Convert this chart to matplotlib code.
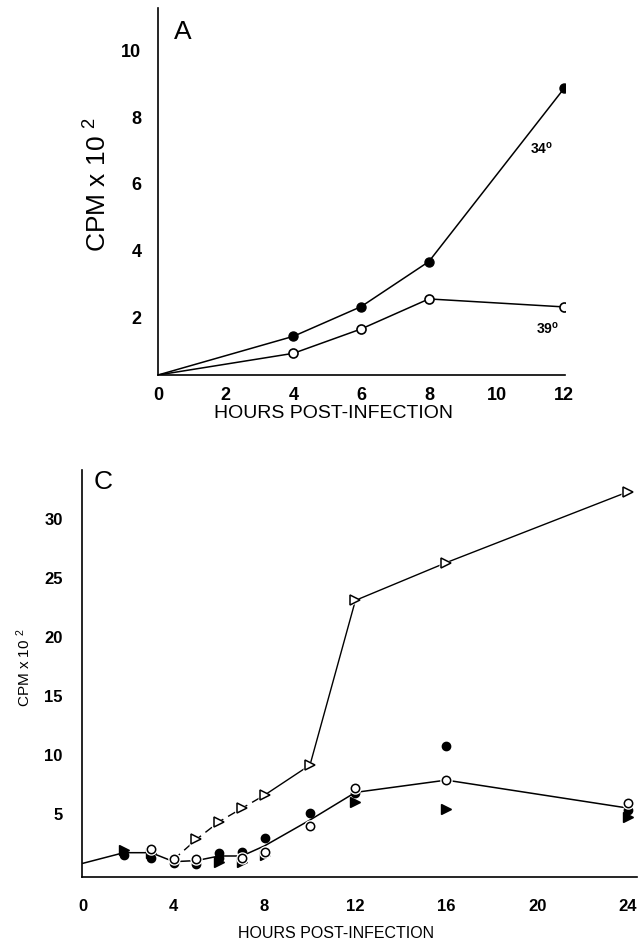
import numpy as np
import matplotlib
matplotlib.use("Agg")
import matplotlib.pyplot as plt

plt.rcParams['font.family'] = ['Liberation Sans', 'DejaVu Sans']
plt.rcParams['mathtext.default'] = 'regular'

# --- painel A ---
horas_a = [0, 4, 6, 8, 12]
cpm_34 = [0.27, 1.43, 2.32, 3.67, 8.87]
cpm_39 = [0.27, 0.92, 1.65, 2.55, 2.31]
ticks_a_x = [0, 2, 4, 6, 8, 10, 12]
ticks_a_y = [2, 4, 6, 8, 10]

# --- painel C ---
# linha continua (media dos circulos)
linha_x = [0, 1.8, 3, 4, 5, 6, 7, 8, 10, 12, 16, 24]
linha_y = [0.82, 1.72, 1.72, 0.96, 1.05, 1.44, 1.44, 2.3, 4.49, 6.83, 7.87, 5.5]
# triangulos abertos
tri_ab_x = [4, 5, 6, 7, 8, 10, 12, 16, 24]
tri_ab_y = [1.15, 2.85, 4.35, 5.48, 6.6, 9.15, 23.1, 26.3, 32.3]
# circulos abertos
circ_ab_x = [3, 4, 5, 7, 8, 10, 12, 16, 24]
circ_ab_y = [2.0, 1.16, 1.19, 1.24, 1.81, 3.98, 7.19, 7.87, 5.93]
# circulos cheios
circ_ch_x = [1.8, 3, 4, 5, 6, 6, 7, 8, 10, 12, 16, 24]
circ_ch_y = [1.53, 1.24, 0.82, 0.76, 1.67, 1.3, 1.81, 2.94, 5.11, 6.74, 10.76, 5.34]
# triangulos cheios
tri_ch_x = [1.8, 3, 6, 7, 8, 12, 16, 24]
tri_ch_y = [1.95, 1.7, 0.96, 0.96, 1.53, 6.04, 5.42, 4.72]
ticks_c_x = [0, 4, 8, 12, 16, 20, 24]
ticks_c_y = [5, 10, 15, 20, 25, 30]

W, H = 640, 944
fig = plt.figure(figsize=(W / 100, H / 100), dpi=100)


def caixa(esq, dir, topo, base):
    return [esq / W, 1 - base / H, (dir - esq) / W, (base - topo) / H]


# ----- Painel A -----
ax = fig.add_axes(caixa(158, 565, 8, 375))
ax.plot(horas_a, cpm_34, 'k-', lw=1.1, zorder=2)
ax.plot(horas_a[1:], cpm_34[1:], 'o', ms=6.5, mfc='k', mec='k', zorder=3)
ax.plot(horas_a, cpm_39, 'k-', lw=1.1, zorder=2)
ax.plot(horas_a[1:], cpm_39[1:], 'o', ms=6.5, mfc='white', mec='k', mew=1.2, zorder=3)
ax.set_xlim(0, 12.02)
ax.set_ylim(0.27, 11.27)
ax.set_xticks(ticks_a_x)
ax.set_yticks(ticks_a_y)
ax.tick_params(length=0, labelsize=13)
ax.tick_params(axis='x', pad=9)
ax.tick_params(axis='y', pad=12)
for lab in ax.get_xticklabels() + ax.get_yticklabels():
    lab.set_fontweight('bold')
for s in ['top', 'right']:
    ax.spines[s].set_visible(False)
for s in ['left', 'bottom']:
    ax.spines[s].set_linewidth(1.2)
ax.text(11.33, 7.05, '34$^o$', fontsize=10, fontweight='bold', ha='center', va='center')
ax.text(11.5, 1.65, '39$^o$', fontsize=10, fontweight='bold', ha='center', va='center')
ax.text(0.061, 0.935, 'A', transform=ax.transAxes, fontsize=19, ha='center', va='center')

fig.text(333 / W, 1 - 414 / H, 'HOURS POST-INFECTION', fontsize=14, ha='center', va='center')
fig.text(98 / W, 1 - 185 / H, 'CPM x 10 $^2$', fontsize=19, rotation=90, ha='center', va='center')

# ----- Painel C -----
axc = fig.add_axes(caixa(82, 637, 470, 877))
axc.plot(linha_x, linha_y, 'k-', lw=1.1, zorder=2)
# triangulos abertos: tracejado ate 8 h, continuo depois
axc.plot(tri_ab_x[:5], tri_ab_y[:5], color='k', lw=1.0, ls=(0, (6, 4)), zorder=2)
axc.plot(tri_ab_x[4:], tri_ab_y[4:], 'k-', lw=1.0, zorder=2)
# halo branco em volta dos marcadores
axc.plot(tri_ab_x[1:], tri_ab_y[1:], '>', ms=10, mfc='white', mec='none', zorder=3)
axc.plot(tri_ab_x[1:], tri_ab_y[1:], '>', ms=6.5, mfc='white', mec='k', mew=1.1, zorder=4)
axc.plot(circ_ch_x, circ_ch_y, 'o', ms=6, mfc='k', mec='k', zorder=4)
axc.plot(tri_ch_x, tri_ch_y, '>', ms=6.5, mfc='k', mec='k', zorder=4)
axc.plot(circ_ab_x, circ_ab_y, 'o', ms=9, mfc='white', mec='none', zorder=5)
axc.plot(circ_ab_x, circ_ab_y, 'o', ms=6, mfc='white', mec='k', mew=1.1, zorder=6)
axc.set_xlim(-0.04, 24.4)
axc.set_ylim(-0.34, 34.15)
axc.set_xticks(ticks_c_x)
axc.set_yticks(ticks_c_y)
axc.tick_params(length=0, labelsize=12)
axc.tick_params(axis='x', pad=16)
axc.tick_params(axis='y', pad=14)
for lab in axc.get_xticklabels() + axc.get_yticklabels():
    lab.set_fontweight('bold')
for s in ['top', 'right']:
    axc.spines[s].set_visible(False)
for s in ['left', 'bottom']:
    axc.spines[s].set_linewidth(1.2)
axc.text(0.038, 0.97, 'C', transform=axc.transAxes, fontsize=19, ha='center', va='center')

fig.text(336 / W, 1 - 933 / H, 'HOURS POST-INFECTION', fontsize=11.5, ha='center', va='center')
fig.text(24 / W, 1 - 668 / H, 'CPM x 10 $^2$', fontsize=11, rotation=90, ha='center', va='center')

fig.savefig('out.png', dpi=100)
